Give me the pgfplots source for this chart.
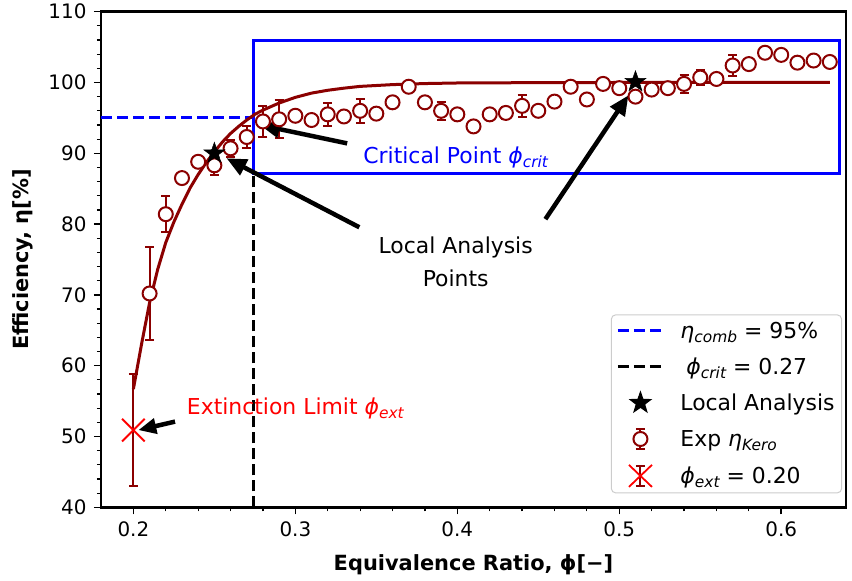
\documentclass[border=0pt]{standalone}
\usepackage{fontspec}
\setmainfont{DejaVu Sans}
\usepackage{pgfplots}
\usepackage{pgfplotstable}
\pgfplotsset{compat=1.18}
\usetikzlibrary{arrows.meta}
\definecolor{dred}{HTML}{8B0000}
\definecolor{lgray}{HTML}{CCCCCC}
\newcommand{\sub}[1]{\raisebox{-0.35ex}{\fontsize{15.5}{16}\selectfont\itshape #1}}
\pgfdeclareplotmark{fstar}{%
  \pgfpathmoveto{\pgfpointpolar{90}{\pgfplotmarksize}}%
  \pgfpathlineto{\pgfpointpolar{126}{0.40\pgfplotmarksize}}%
  \pgfpathlineto{\pgfpointpolar{162}{\pgfplotmarksize}}%
  \pgfpathlineto{\pgfpointpolar{198}{0.40\pgfplotmarksize}}%
  \pgfpathlineto{\pgfpointpolar{234}{\pgfplotmarksize}}%
  \pgfpathlineto{\pgfpointpolar{270}{0.40\pgfplotmarksize}}%
  \pgfpathlineto{\pgfpointpolar{306}{\pgfplotmarksize}}%
  \pgfpathlineto{\pgfpointpolar{342}{0.40\pgfplotmarksize}}%
  \pgfpathlineto{\pgfpointpolar{18}{\pgfplotmarksize}}%
  \pgfpathlineto{\pgfpointpolar{54}{0.40\pgfplotmarksize}}%
  \pgfpathclose
  \pgfusepathqfillstroke
}
\pgfplotstableread{
x y e
0.21 70.2 6.6
0.22 81.4 2.5
0.23 86.5 0.3
0.24 88.8 0.3
0.25 88.3 1.4
0.26 90.7 1.2
0.27 92.3 1.5
0.28 94.5 2.2
0.29 94.8 2.7
0.30 95.3 0.3
0.31 94.7 0.3
0.32 95.5 1.6
0.33 95.2 0.3
0.34 96.0 1.7
0.35 95.6 0.3
0.36 97.2 0.3
0.37 99.4 0.3
0.38 97.2 0.3
0.39 96.0 1.3
0.40 95.5 0.3
0.41 93.8 0.3
0.42 95.5 0.3
0.43 95.7 0.8
0.44 96.7 1.6
0.45 96.0 0.3
0.46 97.3 0.3
0.47 99.4 0.3
0.48 97.6 0.3
0.49 99.8 0.3
0.50 99.2 0.3
0.51 98.0 0.3
0.52 99.0 0.3
0.53 99.2 0.3
0.54 99.8 1.3
0.55 100.7 1.0
0.56 100.5 0.3
0.57 102.4 1.5
0.58 102.6 0.3
0.59 104.2 0.3
0.60 103.9 0.3
0.61 102.8 0.3
0.62 103.1 0.3
0.63 102.9 0.3
}\exptab
\begin{document}
\begin{tikzpicture}
\begin{axis}[
  scale only axis, width=745bp, height=495.6bp,
  xmin=0.18, xmax=0.64, ymin=40, ymax=110,
  xtick={0.2,0.3,0.4,0.5,0.6}, ytick={40,50,...,110},
  minor x tick num=4, minor y tick num=4,
  tick align=outside, tick pos=left,
  major tick length=7bp, minor tick length=4bp,
  tick style={black, line width=1.5bp},
  minor tick style={black, line width=1.2bp},
  axis line style={line width=2.5bp},
  /pgf/number format/assume math mode=true,
  /pgf/number format/fixed,
  ticklabel style={font=\fontsize{20}{24}\selectfont},
  xticklabel style={yshift=-4bp},
  yticklabel style={xshift=-4bp},
  xlabel={\bfseries Equivalence Ratio, ϕ[−]},
  ylabel={\bfseries Efficiency, η[\%]},
  xlabel style={at={(axis description cs:0.5,0)}, anchor=base, yshift=-63bp, font=\fontsize{21}{25}\selectfont},
  ylabel style={at={(axis description cs:0,0.5)}, anchor=base, yshift=72.5bp, font=\fontsize{21}{25}\selectfont},
  legend style={at={(1,0)}, anchor=south east, xshift=-4bp, yshift=14bp,
    draw=lgray, line width=1bp, rounded corners=4bp, fill=white,
    font=\fontsize{22}{26}\selectfont, row sep=14bp, inner sep=5bp,
    /tikz/every odd column/.append style={column sep=14bp}},
  legend cell align=left,
]
% reference lines
\draw[blue, line width=3bp, dash pattern=on 11bp off 5bp] (axis cs:0.18,95) -- (axis cs:0.274,95);
\draw[black, line width=3bp, dash pattern=on 11bp off 5bp] (axis cs:0.274,40) -- (axis cs:0.274,95);
\draw[blue, line width=3bp] (axis cs:0.274,87.2) rectangle (axis cs:0.636,106);
% fit curve
\addplot[dred, line width=3bp, forget plot] coordinates {
(0.200,56.7) (0.205,63.0) (0.210,68.9) (0.215,73.6) (0.220,77.4) (0.225,80.3)
(0.230,82.8) (0.235,85.1) (0.240,87.0) (0.245,88.7) (0.250,90.2) (0.255,91.6)
(0.260,92.8) (0.265,93.8) (0.270,94.7) (0.275,95.5) (0.280,96.1) (0.290,97.1)
(0.300,97.9) (0.310,98.5) (0.320,98.9) (0.330,99.2) (0.340,99.45) (0.360,99.7)
(0.380,99.85) (0.400,99.93) (0.450,99.98) (0.500,100) (0.630,100)};
% experimental points
\addplot[only marks, mark=*, mark size=7bp, forget plot,
  mark options={draw=dred, fill=white, line width=2bp},
  error bars/.cd, y dir=both, y explicit,
  error bar style={dred, line width=2bp},
  error mark options={dred, line width=2bp, mark size=4.5bp, rotate=90},
  ] table[x=x, y=y, y error=e] {\exptab};
% extinction
\addplot[only marks, mark=x, mark size=16bp, forget plot,
  mark options={red, line width=1.8bp},
  error bars/.cd, y dir=both, y explicit,
  error bar style={dred, line width=2bp},
  error mark options={dred, line width=2bp, mark size=4.5bp, rotate=90},
  ] coordinates {(0.20,50.9) +- (0,7.9)};
% local analysis stars
\addplot[only marks, mark=fstar, mark size=11bp, forget plot,
  mark options={fill=black, draw=black, line width=0.5bp}] coordinates {(0.25,90.0) (0.51,100.1)};
% legend
\addlegendimage{legend image code/.code={\draw[blue, line width=3bp, dash pattern=on 11bp off 5bp] (0bp,0bp) -- (45bp,0bp);}}
\addlegendentry{\textit{η}\sub{comb} = 95\%}
\addlegendimage{legend image code/.code={\draw[black, line width=3bp, dash pattern=on 11bp off 5bp] (0bp,0bp) -- (45bp,0bp);}}
\addlegendentry{\hspace{6bp}\textit{ϕ}\sub{crit} = 0.27}
\addlegendimage{legend image code/.code={\fill[black] (22.5bp,0bp) plot[mark=fstar, mark size=11bp] coordinates {(22.5bp,0bp)};}}
\addlegendentry{Local Analysis}
\addlegendimage{legend image code/.code={
  \draw[dred, line width=2bp] (22.5bp,-10bp) -- (22.5bp,10bp) (18bp,-10bp) -- (27bp,-10bp) (18bp,10bp) -- (27bp,10bp);
  \draw[dred, fill=white, line width=2bp] (22.5bp,0bp) circle (7bp);}}
\addlegendentry{Exp \textit{η}\sub{Kero}}
\addlegendimage{legend image code/.code={
  \draw[dred, line width=2bp] (22.5bp,-10bp) -- (22.5bp,10bp) (18bp,-10bp) -- (27bp,-10bp) (18bp,10bp) -- (27bp,10bp);
  \draw[red, line width=1.8bp] (11bp,-11bp) -- (34bp,11bp) (11bp,11bp) -- (34bp,-11bp);}}
\addlegendentry{\textit{ϕ}\sub{ext} = 0.20}
% annotations
\draw[-{Triangle[length=20bp,width=17bp]}, line width=4.5bp] (axis cs:0.332,91.4) -- (axis cs:0.278,94.0);
\draw[-{Triangle[length=20bp,width=17bp]}, line width=4.5bp] (axis cs:0.3395,79.55) -- (axis cs:0.2575,89.3);
\draw[-{Triangle[length=20bp,width=17bp]}, line width=4.5bp] (axis cs:0.4544,80.7) -- (axis cs:0.5057,98.2);
\draw[-{Triangle[length=18bp,width=15bp]}, line width=4.5bp] (axis cs:0.2257,52.1) -- (axis cs:0.203,50.9);
\node[blue, anchor=base, font=\fontsize{22}{26}\selectfont] at (axis cs:0.399,88.6) {Critical Point \textit{ϕ}\sub{crit}};
\node[black, anchor=base, font=\fontsize{22}{26}\selectfont] at (axis cs:0.399,75.9) {Local Analysis};
\node[black, anchor=base, font=\fontsize{22}{26}\selectfont] at (axis cs:0.399,71.2) {Points};
\node[red, anchor=base, font=\fontsize{22}{26}\selectfont] at (axis cs:0.300,53.1) {Extinction Limit \textit{ϕ}\sub{ext}};
\end{axis}
\pgfresetboundingbox
\path ([shift={(-101bp,-73bp)}]current axis.south west) rectangle ([shift={(6bp,11.7bp)}]current axis.north east);
\end{tikzpicture}
\end{document}
